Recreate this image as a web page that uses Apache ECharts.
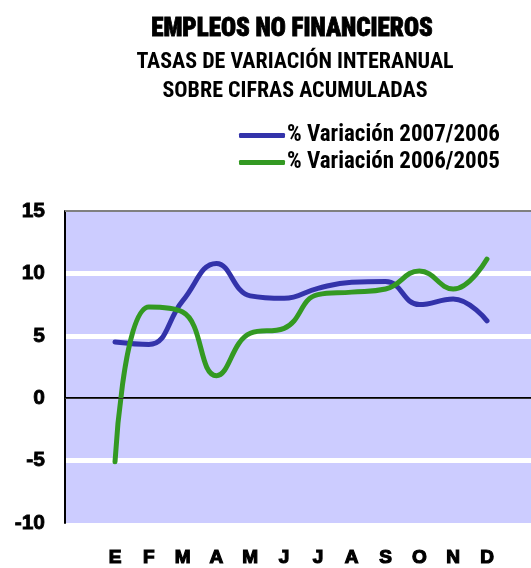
<!DOCTYPE html>
<html><head><meta charset="utf-8">
<script src="https://cdn.jsdelivr.net/npm/echarts@6/dist/echarts.min.js"></script>
<style>html,body{margin:0;padding:0;background:#fff}#c{width:531px;height:568px}</style>
</head><body><div id="c"></div>
<script>
const months = ['E','F','M','A','M','J','J','A','S','O','N','D'];
const serie2007 = [4.5, 4.3, 7.8, 10.8, 8.2, 8.0, 8.8, 9.3, 9.35, 7.5, 7.95, 6.2];
const serie2006 = [-5.1, 7.3, 6.9, 1.8, 5.2, 5.6, 8.3, 8.5, 8.75, 10.2, 8.75, 11.15];
const yTicks = [-10, -5, 0, 5, 10, 15];
const names = ['% Variación 2007/2006', '% Variación 2006/2005'];

const condensed = '"Liberation Sans Narrow", "Roboto Condensed", "Liberation Sans", Arial, sans-serif';
const heavy = '"Liberation Sans", "DejaVu Sans", Arial, sans-serif';

const chart = echarts.init(document.getElementById('c'), null, {renderer: 'canvas'});
chart.setOption({
  animation: false,
  title: [
    {text: 'EMPLEOS NO FINANCIEROS', left: 287, top: 12, textAlign: 'center',
     textStyle: {fontFamily: condensed, fontWeight: 900, fontSize: 25, color: '#000',
       textBorderColor: '#000', textBorderWidth: 0.8}},
    {text: 'TASAS DE VARIACIÓN INTERANUAL', left: 290, top: 46, textAlign: 'center',
     textStyle: {fontFamily: condensed, fontWeight: 'bold', fontSize: 22, color: '#000'}},
    {text: 'SOBRE CIFRAS ACUMULADAS', left: 290, top: 75, textAlign: 'center',
     textStyle: {fontFamily: condensed, fontWeight: 'bold', fontSize: 22, color: '#000'}}
  ],
  legend: {
    data: names, orient: 'vertical', left: 234, top: 119, itemGap: 4,
    icon: 'roundRect', itemWidth: 46, itemHeight: 5,
    textStyle: {fontFamily: condensed, fontWeight: 'bold', fontSize: 23, color: '#000', padding: [0, 0, 0, -3]}
  },
  grid: [
    {left: 65, top: 211, width: 470, height: 312, show: true, backgroundColor: '#CCCCFF', borderWidth: 0},
    {left: 115, top: 211, width: 372, height: 312}
  ],
  xAxis: [
    {type: 'category', gridIndex: 0, data: [''], axisLine: {show: true, lineStyle: {color: '#000', width: 2}},
     axisTick: {show: false}, axisLabel: {show: false}, splitLine: {show: false}},
    {type: 'category', gridIndex: 1, data: months, boundaryGap: false,
     axisLine: {show: false}, axisTick: {show: false}, splitLine: {show: false},
     axisLabel: {margin: 25, fontFamily: heavy, fontWeight: 900, fontSize: 19, color: '#000', interval: 0,
       textBorderColor: '#000', textBorderWidth: 1.2}}
  ],
  yAxis: [
    {type: 'value', gridIndex: 0, min: -10, max: 15, interval: 5,
     axisLine: {show: true, lineStyle: {color: '#000', width: 2}}, axisTick: {show: false},
     axisLabel: {margin: 20, fontFamily: heavy, fontWeight: 900, fontSize: 21, color: '#000',
       textBorderColor: '#000', textBorderWidth: 0.8,
       formatter: v => yTicks.includes(v) ? String(v) : ''},
     splitLine: {show: true, lineStyle: {width: 5, color: ['transparent', '#fff', 'transparent', '#fff', '#fff', 'transparent']}}},
    {type: 'value', gridIndex: 1, min: -10, max: 15, interval: 5, show: false, splitLine: {show: false}}
  ],
  series: [
    {type: 'line', xAxisIndex: 0, yAxisIndex: 0, data: [], silent: true,
     markLine: {silent: true, symbol: 'none', label: {show: false},
       data: [
         {yAxis: 0, lineStyle: {color: '#333', width: 1, type: 'solid'}},
         {yAxis: 15, lineStyle: {color: '#808080', width: 2, type: 'solid'}}
       ]}},
    {name: names[0], type: 'line', xAxisIndex: 1, yAxisIndex: 1, data: serie2007, smooth: 0.45,
     showSymbol: false, symbol: 'none', clip: false,
     lineStyle: {color: '#3333AA', width: 5, cap: 'round'}, itemStyle: {color: '#3333AA'}},
    {name: names[1], type: 'line', xAxisIndex: 1, yAxisIndex: 1, data: serie2006, smooth: 0.45,
     showSymbol: false, symbol: 'none', clip: false,
     lineStyle: {color: '#339922', width: 5, cap: 'round'}, itemStyle: {color: '#339922'}}
  ]
});
</script></body></html>
